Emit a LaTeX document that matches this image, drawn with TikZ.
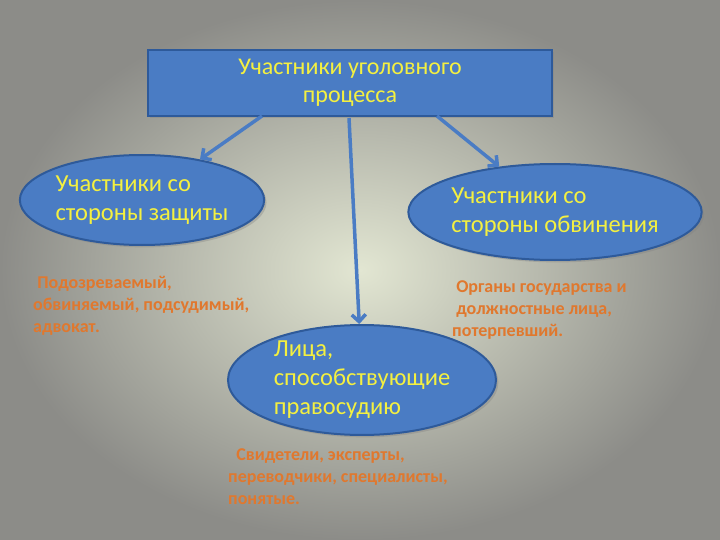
\documentclass[tikz,border=0pt]{standalone}
\usepackage{fontspec}
\setmainfont{Carlito}
\usetikzlibrary{arrows.meta,shadows,shapes.geometric}
\definecolor{bl}{HTML}{4A7CC4}
\definecolor{bld}{HTML}{2E5A9A}
\definecolor{yl}{HTML}{F4F040}
\definecolor{org}{HTML}{E0782E}
\begin{document}
\begin{tikzpicture}[x=1pt,y=-1pt,
  box/.style={draw=bld,line width=2pt,fill=bl,text=yl,font=\fontsize{24}{28}\selectfont,align=center,drop shadow={opacity=0.35}},
  ell/.style={ellipse,draw=bld,line width=2pt,fill=bl,text=yl,font=\fontsize{24.5}{29}\selectfont,align=left,inner sep=0pt,drop shadow={opacity=0.35}},
  desc/.style={text=org,font=\fontsize{18}{22}\selectfont\bfseries,align=left,anchor=north west,inner sep=0pt},
  arr/.style={draw=bl,line width=3.5pt,-{Straight Barb[length=7pt,width=14pt,line width=3.5pt]}}]
\shade[inner color={rgb,255:red,226;green,230;blue,210},outer color={rgb,255:red,140;green,140;blue,136}] (0,0) rectangle (720,540);
\useasboundingbox (0,0) rectangle (720,540);
\node[box,minimum width=404,minimum height=66] (top) at (350,83) {Участники уголовного\\процесса};
\node[ell,minimum width=240,minimum height=90] (L) at (142,200) {Участники со\\стороны защиты};
\node[ell,minimum width=250,minimum height=96] (R) at (555,212) {Участники со\\стороны обвинения};
\node[ell,minimum width=268,minimum height=100] (M) at (362,380) {Лица,\\способствующие\\правосудию};
\coordinate (t1) at (262,116); \coordinate (t2) at (437,116); \coordinate (t3) at (349,118);
\draw[arr] (t1) -- (L);
\draw[arr] (t2) -- (R);
\draw[arr] (t3) -- (M);
\node[desc] (dL) at (33,276) {\ Подозреваемый,\\обвиняемый, подсудимый,\\адвокат.};
\node[desc] (dR) at (452,280) {\ Органы государства и\\\ должностные лица,\\потерпевший.};
\node[desc] (dM) at (228,448) {\ \ Свидетели, эксперты,\\переводчики, специалисты,\\понятые.};
\end{tikzpicture}
\end{document}
